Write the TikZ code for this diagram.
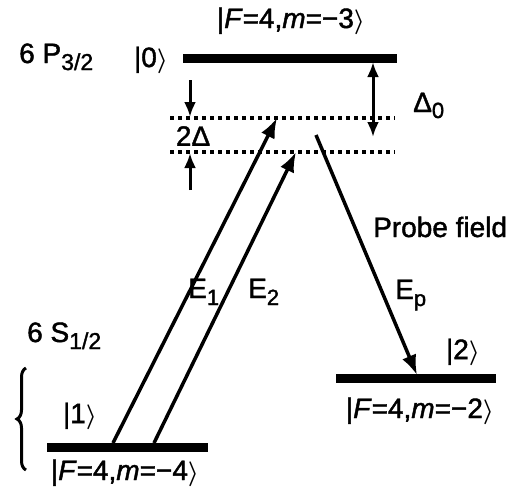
\documentclass[tikz,border=0pt]{standalone}
\usepackage{fontspec}
\setmainfont{Liberation Sans}[FakeBold=1.5,AutoFakeBold=1.5]
\usetikzlibrary{arrows.meta,decorations.pathreplacing}
\tikzset{
  level/.style={line width=9pt},
  dotline/.style={line width=3.5pt,dash pattern=on 3.5pt off 4.5pt},
  trans/.style={line width=3.5pt,-{Latex[length=20pt,width=15pt]}},
  small/.style={-{Latex[length=15pt,width=12pt]},line width=3pt},
  lbl/.style={inner sep=0pt,font=\fontsize{28}{32}\selectfont\bfseries},
  slbl/.style={inner sep=0pt,font=\fontsize{28}{32}\selectfont\bfseries}
}
\newcommand{\ketr}{$\boldsymbol{\rangle}$}
\usepackage{amsmath}
\begin{document}
\begin{tikzpicture}[x=1pt,y=-1pt]
\useasboundingbox (0,0) rectangle (520,496);
% levels
\coordinate (L0a) at (183,58); \coordinate (L0b) at (397,58);
\coordinate (L1a) at (47,447); \coordinate (L1b) at (208,447);
\coordinate (L2a) at (336,378); \coordinate (L2b) at (496,378);
\draw[level] (L0a) -- (L0b);
\draw[level] (L1a) -- (L1b);
\draw[level] (L2a) -- (L2b);
% dotted virtual levels
\coordinate (D1a) at (170,118); \coordinate (D1b) at (395,118);
\coordinate (D2a) at (170,152); \coordinate (D2b) at (395,152);
\draw[dotline] (D1a) -- (D1b);
\draw[dotline] (D2a) -- (D2b);
% detuning arrows
\coordinate (t1) at (190,80); \coordinate (t1e) at (190,117);
\coordinate (t2) at (190,190); \coordinate (t2e) at (190,153);
\draw[small] (t1) -- (t1e);
\draw[small] (t2) -- (t2e);
\coordinate (d0a) at (373,62); \coordinate (d0b) at (373,137);
\draw[line width=3pt,{Latex[length=15pt,width=12pt]}-{Latex[length=15pt,width=12pt]}] (d0a) -- (d0b);
% transitions
\coordinate (e1s) at (113,443); \coordinate (e1e) at (277,118);
\coordinate (e2s) at (154,443); \coordinate (e2e) at (296,152);
\coordinate (eps) at (316,135); \coordinate (epe) at (417,375);
\draw[trans] (e1s) -- (e1e);
\draw[trans] (e2s) -- (e2e);
\draw[trans] (eps) -- (epe);
% brace
\coordinate (b1) at (26,470); \coordinate (b2) at (26,368);
\draw[line width=3pt,decorate,decoration={brace,amplitude=9pt}] (b1) -- (b2);
% labels
\node[slbl,anchor=base west] (p32) at (19,63) {6 P\raisebox{-7pt}{\fontsize{23}{26}\selectfont 3/2}};
\node[lbl] (k0) at (151,60) {|0\ketr};
\node[lbl,anchor=base] (k0f) at (291,28) {|\textit{F}=4,\textit{m}=−3\ketr};
\node[lbl] (dd) at (193,136) {2Δ};
\node[lbl,anchor=base west] (d0) at (413,112) {Δ\raisebox{-6pt}{\fontsize{22}{26}\selectfont 0}};
\node[lbl,anchor=base west] (E1) at (188,298) {E\raisebox{-7pt}{\fontsize{22}{26}\selectfont 1}};
\node[lbl,anchor=base west] (E2) at (248,298) {E\raisebox{-7pt}{\fontsize{22}{26}\selectfont 2}};
\node[lbl,anchor=base west] (Ep) at (395,299) {E\raisebox{-7pt}{\fontsize{22}{26}\selectfont p}};
\node[lbl,anchor=base west] (pf) at (373,237) {Probe field};
\node[slbl,anchor=base west] (s12) at (27,342) {6 S\raisebox{-7pt}{\fontsize{23}{26}\selectfont 1/2}};
\node[lbl] (k1) at (80,416) {|1\ketr};
\node[lbl,anchor=base] (k1f) at (125,480) {|\textit{F}=4,\textit{m}=−4\ketr};
\node[lbl] (k2) at (463,352) {|2\ketr};
\node[lbl,anchor=base] (k2f) at (420,418) {|\textit{F}=4,\textit{m}=−2\ketr};
\end{tikzpicture}
\end{document}
